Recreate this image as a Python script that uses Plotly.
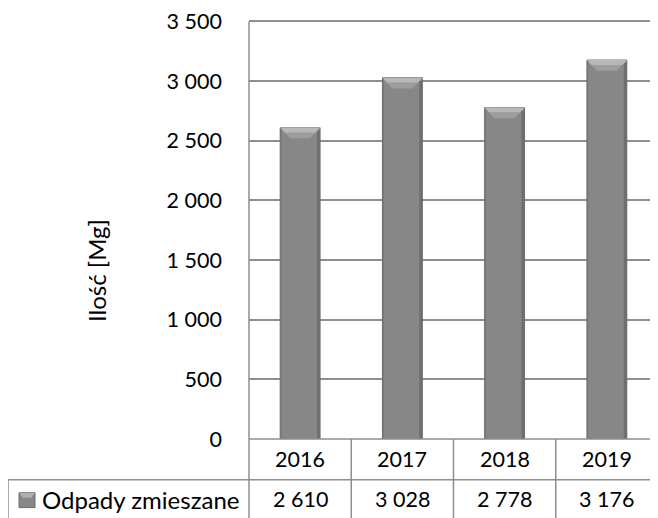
import plotly.graph_objects as go

years = ["2016", "2017", "2018", "2019"]
values = [2610, 3028, 2778, 3176]
series_name = "Odpady zmieszane"
y_title = "Ilość [Mg]"
y_max_tick = 3500
y_step = 500

OFF = 8  # default page body margin
W, H = 658 - OFF, 518 - OFF
Y_MAX = 3520
PX_PER = 420 / 3500
PLOT_H = Y_MAX * PX_PER
L, R, B = 249 - OFF, 0, 518 - 439
T = H - B - PLOT_H
FONT = "Lato"
GRID = "#8e8e8e"
NUM_SIZE = 21.5
TXT_SIZE = 24

def fmt(v):
    return f"{v:,}".replace(",", " ")

xs = list(range(len(years)))
bw = 0.39

fig = go.Figure()
fig.add_trace(go.Bar(
    x=xs, y=values, width=bw,
    marker=dict(color="#878787", line=dict(color="#6c6c6c", width=1)),
    showlegend=False, hoverinfo="skip",
))

shapes = []
bev_y = 90
bev_x = 0.095
for i, v in zip(xs, values):
    x0, x1 = i - bw / 2, i + bw / 2
    shapes.append(dict(
        type="path", xref="x", yref="y",
        path=f"M {x0},{v} L {x1},{v} L {x1 - bev_x},{v - bev_y} L {x0 + bev_x},{v - bev_y} Z",
        fillcolor="#9d9d9d", line=dict(width=0), layer="above",
    ))
    shapes.append(dict(
        type="path", xref="x", yref="y",
        path=f"M {x0},{v} L {x1},{v} L {x1 - bev_x*0.45},{v - bev_y*0.45} L {x0 + bev_x*0.45},{v - bev_y*0.45} Z",
        fillcolor="#b8b8b8", line=dict(width=0), layer="above",
    ))
    shapes.append(dict(
        type="rect", xref="x", yref="y",
        x0=x1 - 0.03, x1=x1, y0=0, y1=v - bev_y * 0.3,
        fillcolor="#6f6f6f", line=dict(width=0), layer="above",
    ))
    shapes.append(dict(
        type="rect", xref="x", yref="y",
        x0=x0, x1=x0 + 0.012, y0=0, y1=v - bev_y * 0.1,
        fillcolor="#747474", line=dict(width=0), layer="above",
    ))

def px_x(p):
    return (p - OFF - L) / (W - L - R)

def px_y(p):
    return (H - B - (p - OFF)) / PLOT_H

def line(x0, y0, x1, y1):
    shapes.append(dict(type="line", xref="paper", yref="paper",
                       x0=px_x(x0), y0=px_y(y0), x1=px_x(x1), y1=px_y(y1),
                       line=dict(color=GRID, width=1.5), layer="above"))

# table lines and left axis line
line(249, 439, 658, 439)
line(8, 480, 658, 480)
shapes.append(dict(type="line", xref="paper", yref="y", x0=0, x1=0, y0=y_max_tick, y1=0,
                   line=dict(color=GRID, width=1.5), layer="above"))
line(249, 439, 249, 520)
line(8, 480, 8, 520)
colw = (658 - 249) / len(years)
for k in range(1, len(years)):
    xp = 249 + k * colw
    line(xp, 439, xp, 520)

annotations = []
for k, (yr, v) in enumerate(zip(years, values)):
    cx = px_x(249 + (k + 0.5) * colw)
    annotations.append(dict(x=cx, y=px_y(459.5), xref="paper", yref="paper",
                            xanchor="center", yanchor="middle",
                            text=yr, showarrow=False,
                            font=dict(size=NUM_SIZE, color="black", family=FONT)))
    annotations.append(dict(x=cx, y=px_y(499.5), xref="paper", yref="paper",
                            xanchor="center", yanchor="middle",
                            text=fmt(v), showarrow=False,
                            font=dict(size=NUM_SIZE, color="black", family=FONT)))

annotations.append(dict(x=px_x(40), y=px_y(500), xref="paper", yref="paper",
                        xanchor="left", yanchor="middle",
                        text=series_name, showarrow=False,
                        font=dict(size=TXT_SIZE, color="black", family=FONT)))
# legend key
shapes.append(dict(type="rect", xref="paper", yref="paper",
                   x0=px_x(19), x1=px_x(35), y0=px_y(508), y1=px_y(493),
                   fillcolor="#878787", line=dict(color="#6c6c6c", width=1)))
shapes.append(dict(type="path", xref="paper", yref="paper",
                   path=f"M {px_x(19)},{px_y(493)} L {px_x(35)},{px_y(493)} L {px_x(31)},{px_y(498)} L {px_x(23)},{px_y(498)} Z",
                   fillcolor="#b0b0b0", line=dict(width=0)))

annotations.append(dict(x=px_x(97), y=px_y(270), xref="paper", yref="paper",
                        xanchor="center", yanchor="middle",
                        text=y_title, textangle=-90, showarrow=False,
                        font=dict(size=TXT_SIZE, color="black", family=FONT)))

fig.update_layout(
    width=W, height=H,
    margin=dict(l=L, r=R, t=T, b=B, pad=0),
    paper_bgcolor="white", plot_bgcolor="white",
    separators=", ",
    font=dict(family=FONT, size=NUM_SIZE, color="black"),
    xaxis=dict(range=[-0.5, len(years) - 0.5], showticklabels=False, showgrid=False,
               zeroline=False, showline=False, fixedrange=True),
    yaxis=dict(range=[0, Y_MAX], tickmode="linear", tick0=0, dtick=y_step, tickformat=",d",
               showgrid=True, gridcolor=GRID, gridwidth=1.5, zeroline=False,
               showline=False, ticks="", ticklabelstandoff=26, ticklabeloverflow="allow",
               tickfont=dict(size=NUM_SIZE, color="black", family=FONT)),
    shapes=shapes, annotations=annotations,
)

fig.write_html("out.html")
